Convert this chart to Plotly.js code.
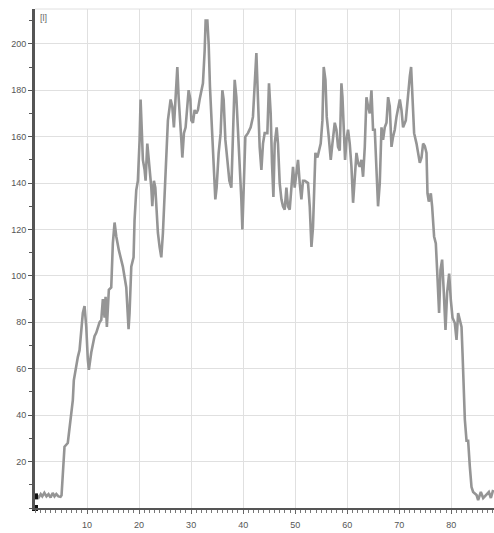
<!DOCTYPE html>
<html>
<head>
<meta charset="utf-8">
<script src="https://cdn.plot.ly/plotly-3.0.1.min.js"></script>
<style>html,body{margin:0;padding:0;background:#fff;}#chart{width:494px;height:533px;}</style>
</head>
<body>
<div id="chart"></div>
<script>
// time axis values
const timeValues = [
0,0.3,0.7,1.1,1.4,1.8,2.2,2.6,3.0,3.4,3.75,4.1,4.5,4.9,5.1,
5.35,5.67,6.3,6.63,6.96,7.27,7.46,7.79,8.23,8.56,8.88,9.19,9.52,9.85,10.15,10.35,10.81,11.44,11.77,12.08,12.4,12.73,13.04,13.37,13.56,13.81,14.19,14.65,14.96,15.29,15.62,16.12,16.58,16.88,17.54,17.85,17.98,18.17,18.37,18.5,18.94,19.13,19.46,19.77,
20.1,20.29,20.54,20.73,21.06,21.25,21.58,21.83,22.02,22.35,22.54,22.85,23.12,23.31,23.62,23.94,24.27,24.58,24.9,25.23,25.54,26.06,26.38,26.69,26.96,27.35,27.6,27.85,28.12,28.31,28.62,28.94,29.27,29.52,29.85,
30.04,30.35,30.67,31.0,31.31,31.63,31.96,32.27,32.6,32.79,33.12,33.37,33.62,34.0,34.38,34.65,34.9,35.29,35.67,36.0,36.25,36.58,36.96,37.35,37.73,38.04,38.37,38.69,39.0,39.33,39.65,39.85,
40.1,40.42,40.92,41.44,41.88,42.21,42.54,42.85,43.17,43.5,43.81,44.13,44.65,44.96,45.29,45.54,45.81,46.06,46.44,46.69,47.02,47.35,47.65,47.98,48.31,48.62,48.94,49.27,49.58,49.9,
50.23,50.54,50.87,51.19,51.5,51.83,52.15,52.46,52.79,53.12,53.42,53.62,53.88,54.27,54.58,54.9,55.23,55.48,55.81,56.06,56.44,56.83,57.15,57.6,57.92,58.23,58.56,58.88,59.08,59.33,59.58,59.85,
60.15,60.48,60.81,61.12,61.44,61.77,62.08,62.4,62.73,63.04,63.37,63.69,64.0,64.33,64.65,64.96,65.29,65.62,65.92,66.25,66.58,66.88,67.21,67.54,67.85,68.17,68.5,68.81,69.13,69.46,69.77,
70.1,70.42,70.73,71.25,71.69,72.02,72.27,72.54,72.85,73.31,73.62,73.94,74.27,74.58,74.9,75.23,75.42,75.67,76.06,76.31,76.69,77.02,77.27,77.46,77.65,77.92,78.23,78.56,78.88,79.19,79.58,79.9,
80.23,80.67,81.0,81.31,81.63,81.96,82.15,82.35,82.6,82.92,83.23,83.56,83.88,84.19,84.85,85.15,85.67,86.12,86.77,87.21,87.6,88.04
];
// measured values [l]
const levelValues = [
5,5.5,4.5,6,5,6.5,5,6,4.5,6.5,5,6,5,4.8,5.5,
15,26.4,28,35,39,46.5,55,59.5,65,68,75,84,87,78,64,59.5,67,74,75.5,78,80,81,90,82,91,78,94,95,114,123,117,111,107,104,95,78,77,84,97,104,108,124,137,141,
158.6,176,161.5,150,145.7,141,157,151,147,138,130,141,138,130,118.5,112.5,108,118.5,135.6,155.7,167,176,173,164,177,190,177,170,158.6,151,161.5,164,171.5,180,176,
167,166,171.5,170,171.5,176,179,183,197,210,210,200,181.5,164,147,133,138,153,161.5,180,176,158.6,150,141,138,164,184.5,177,164,151,133,120,
135.6,160,161.5,164,168.5,183,196,176,155.6,145.7,157,161.5,161.5,183,170,148.7,134,157,164,157,140,133,130,128.5,138,130,128.5,138,147,138,
145.7,150,140,133,141,141,140.5,140,130,112.5,121,141,153,151,154,157,167,190,184.5,168.5,160,150,157,166,163,155.6,154,183,177,160,150,158.6,
163,157,147,131.5,144.4,153,148.7,147,150,142.7,155.6,177,173,170,180,163,163,144.4,130,140,164,158.6,164,166,177,173,155.6,160,163,168.5,173,
176,171.5,164,167,179,186,190,176,161.5,157,153,148.7,151,157,156,153,135.6,132,135.6,130,117,114,102.6,91,84,102.6,107,92.7,76.7,92.7,101,89.7,
82,79.7,72.4,84,81,78,66.8,52,38,29,29,17.7,9,6.9,5.6,3.4,6.9,4.3,5.6,6.9,4.3,7.8
];
// marker points on the left axis
const markerX = [0, 0];
const markerY = [5, 0];
// tick labels
const xTicks = [10, 20, 30, 40, 50, 60, 70, 80];
const yTicks = [20, 40, 60, 80, 100, 120, 140, 160, 180, 200];
const unitLabel = "[l]";

const tickFont = {family: "Liberation Sans, Arial, sans-serif", size: 9, color: "#555"};

Plotly.newPlot("chart", [
  {
    x: timeValues, y: levelValues, type: "scatter", mode: "lines",
    line: {color: "#959595", width: 2.6, shape: "linear"},
    hoverinfo: "skip", showlegend: false
  },
  {
    x: markerX, y: markerY, type: "scatter", mode: "markers",
    marker: {symbol: "square", size: 6, color: "#111"},
    cliponaxis: false, hoverinfo: "skip", showlegend: false
  }
], {
  width: 494, height: 533,
  margin: {l: 35, r: 0, t: 9, b: 25, pad: 0},
  paper_bgcolor: "#fff", plot_bgcolor: "#fff",
  showlegend: false,
  xaxis: {
    range: [0, 88.2], tickmode: "array", tickvals: xTicks,
    showgrid: true, gridcolor: "#e0e0e0", gridwidth: 1, zeroline: false,
    showline: true, linecolor: "#555", linewidth: 2,
    ticks: "outside", ticklen: 4, tickcolor: "#666", tickwidth: 1,
    tickfont: tickFont, ticklabelstandoff: 3,
    minor: {tickmode: "linear", tick0: 0, dtick: 1, ticks: "outside", ticklen: 3, tickcolor: "#777", showgrid: false}
  },
  yaxis: {
    range: [0, 215], tickmode: "array", tickvals: yTicks,
    showgrid: true, gridcolor: "#e0e0e0", gridwidth: 1, zeroline: false,
    showline: true, linecolor: "#555", linewidth: 3,
    ticks: "outside", ticklen: 4, tickcolor: "#555", tickwidth: 1,
    tickfont: tickFont,
    minor: {tickmode: "linear", tick0: 0, dtick: 10, ticks: "outside", ticklen: 3, tickcolor: "#555", showgrid: false}
  },
  shapes: [
    {type: "line", xref: "paper", yref: "paper", x0: 0, x1: 1, y0: 1, y1: 1, line: {color: "#e0e0e0", width: 1}}
  ],
  annotations: [
    {xref: "paper", yref: "paper", x: 0, y: 1, xanchor: "left", yanchor: "top", xshift: 3, yshift: -2,
     text: unitLabel, showarrow: false, font: {family: "Liberation Sans, Arial, sans-serif", size: 9, color: "#666"}}
  ]
}, {staticPlot: true, displayModeBar: false});
</script>
</body>
</html>
